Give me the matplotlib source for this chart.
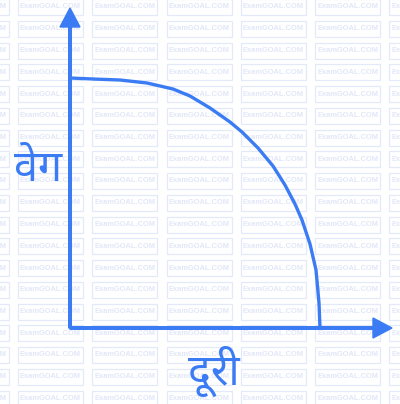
import matplotlib
matplotlib.use('Agg')
import matplotlib.pyplot as plt
from matplotlib import font_manager

# curve (distance, velocity), origin at the axes corner
dist = [0, 23, 50, 77, 103, 120, 140, 160, 172, 180, 188, 203, 215, 225,
        232, 240, 246, 249, 250]
vel = [250, 249, 248, 245, 239, 232, 220, 206, 196, 188, 180, 162, 143, 124,
       108, 84, 58, 25, 0]
xlabel = 'दूरी'
ylabel = 'वेग'
mark = 'ExamGOAL.COM'

blue = '#3b7cf5'

have = {f.name for f in font_manager.fontManager.ttflist}
deva = 'DejaVu Sans'
for name in ['Noto Sans Devanagari', 'Hind', 'Mukta', 'Poppins', 'Anek Devanagari']:
    if name in have:
        deva = name
        break

fig = plt.figure(figsize=(4, 4.04), dpi=100)
ax = fig.add_axes([0, 0, 1, 1])
ax.set_xlim(-70, 330)
ax.set_ylim(-76, 328)
ax.axis('off')

# watermark grid
for j in range(19):
    yc = 328 - (7 + 21.75 * j)
    for k in range(-1, 6):
        xc = 50.5 + 74.25 * k - 70
        ax.add_patch(plt.Rectangle((xc - 32.5, yc - 8), 65, 16, fill=False,
                                   ec='#e4e9f9', lw=0.9, zorder=0))
        ax.text(xc, yc, mark, ha='center', va='center', fontsize=5.4,
                family='Liberation Sans', weight='bold', color='#e2e7f8', zorder=0)

# axes with arrow heads
ax.arrow(0, 0, 0, 320, width=2.6, head_width=20, head_length=19,
         length_includes_head=True, color=blue, zorder=3)
ax.arrow(0, 0, 322, 0, width=2.6, head_width=20, head_length=19,
         length_includes_head=True, color=blue, zorder=3)

ax.plot(dist, vel, color=blue, lw=2.4, zorder=2, solid_capstyle='butt')

ax.text(-32, 158, ylabel, ha='center', va='center', fontsize=31,
        family=[deva, 'DejaVu Sans'], weight='semibold', color=blue)
ax.text(144, -43, xlabel, ha='center', va='center', fontsize=31,
        family=[deva, 'DejaVu Sans'], weight='semibold', color=blue)

fig.savefig('out.png', dpi=100)
